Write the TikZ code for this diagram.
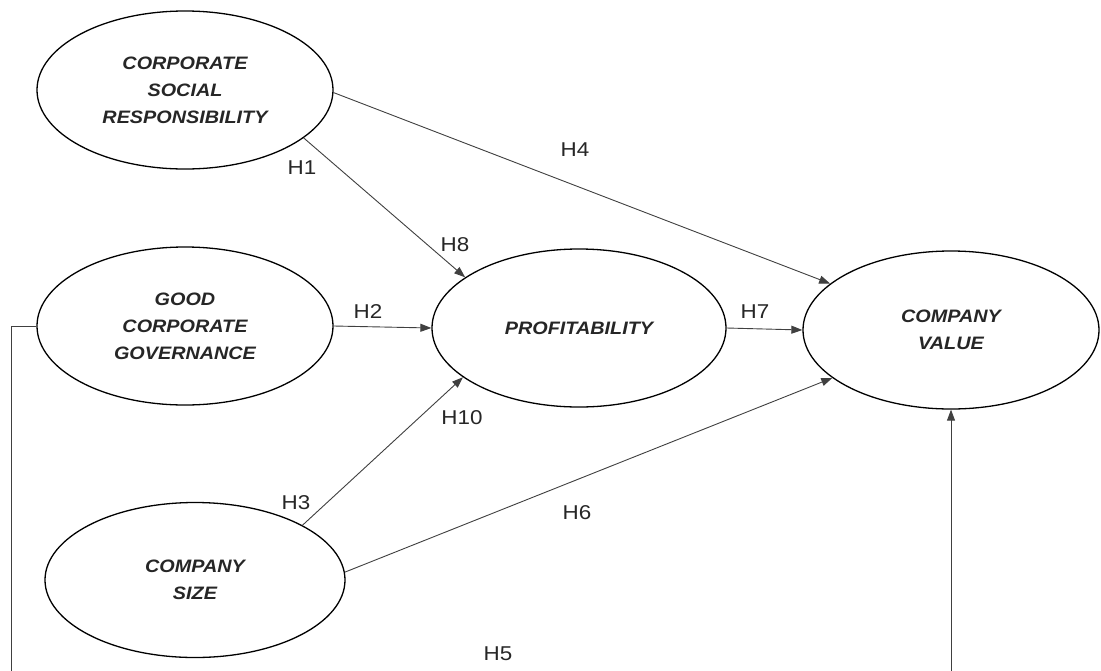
\documentclass[tikz,border=0pt]{standalone}
\usepackage{fontspec}
\setmainfont{Liberation Sans}
\newfontfamily\nodefont[FakeStretch=1.1]{Liberation Sans}
\newfontfamily\labfont[FakeStretch=1.12]{Liberation Sans}
\usetikzlibrary{shapes.geometric,arrows.meta}
\begin{document}
\begin{tikzpicture}[x=1pt,y=-1pt,
  var/.style={ellipse, draw=black, line width=1.3pt, inner sep=0pt, align=center,
    font=\nodefont\bfseries\itshape\fontsize{18}{27}\selectfont, text=black!85},
  lab/.style={font=\labfont\fontsize{20}{24}\selectfont, text=black!85, inner sep=0pt},
  arr/.style={draw=black!75, line width=0.9pt, -{Triangle[length=11pt,width=8pt]}}]
\useasboundingbox (0,0) rectangle (1101,670);
\fill[white] (0,0) rectangle (1101,670);
\clip (0,0) rectangle (1101,670);

\node[var, minimum width=296pt, minimum height=158pt] (csr) at (185,90) {CORPORATE\\SOCIAL\\RESPONSIBILITY};
\node[var, minimum width=296pt, minimum height=158pt] (gcg) at (185,326) {GOOD\\CORPORATE\\GOVERNANCE};
\node[var, minimum width=300pt, minimum height=155pt] (size) at (195,580) {COMPANY\\SIZE};
\node[var, minimum width=294pt, minimum height=158pt] (prof) at (579,328) {PROFITABILITY};
\node[var, minimum width=296pt, minimum height=158pt] (cv) at (951,330) {COMPANY\\VALUE};

\coordinate (c1) at (11,326);
\coordinate (c2) at (11,700);

\draw[arr] (csr.-22) -- (prof.156);
\draw[arr] (csr.-1) -- (cv.159);
\draw[arr] (gcg.east) -- (prof.west);
\draw[arr] (prof.east) -- (cv.west);
\draw[arr] (size.27) -- (prof.-157);
\draw[arr] (size.3) -- (cv.-158);
\draw[arr] (gcg.west) -- (c1) -- (c2) -| (cv.south);

\node[lab] (h1) at (302,168) {H1};
\node[lab] (h4) at (575,150) {H4};
\node[lab] (h8) at (455,245) {H8};
\node[lab] (h2) at (368,312) {H2};
\node[lab] (h7) at (755,312) {H7};
\node[lab] (h10) at (462,418) {H10};
\node[lab] (h3) at (296,503) {H3};
\node[lab] (h6) at (577,513) {H6};
\node[lab] (h5) at (498,654) {H5};
\end{tikzpicture}
\end{document}
